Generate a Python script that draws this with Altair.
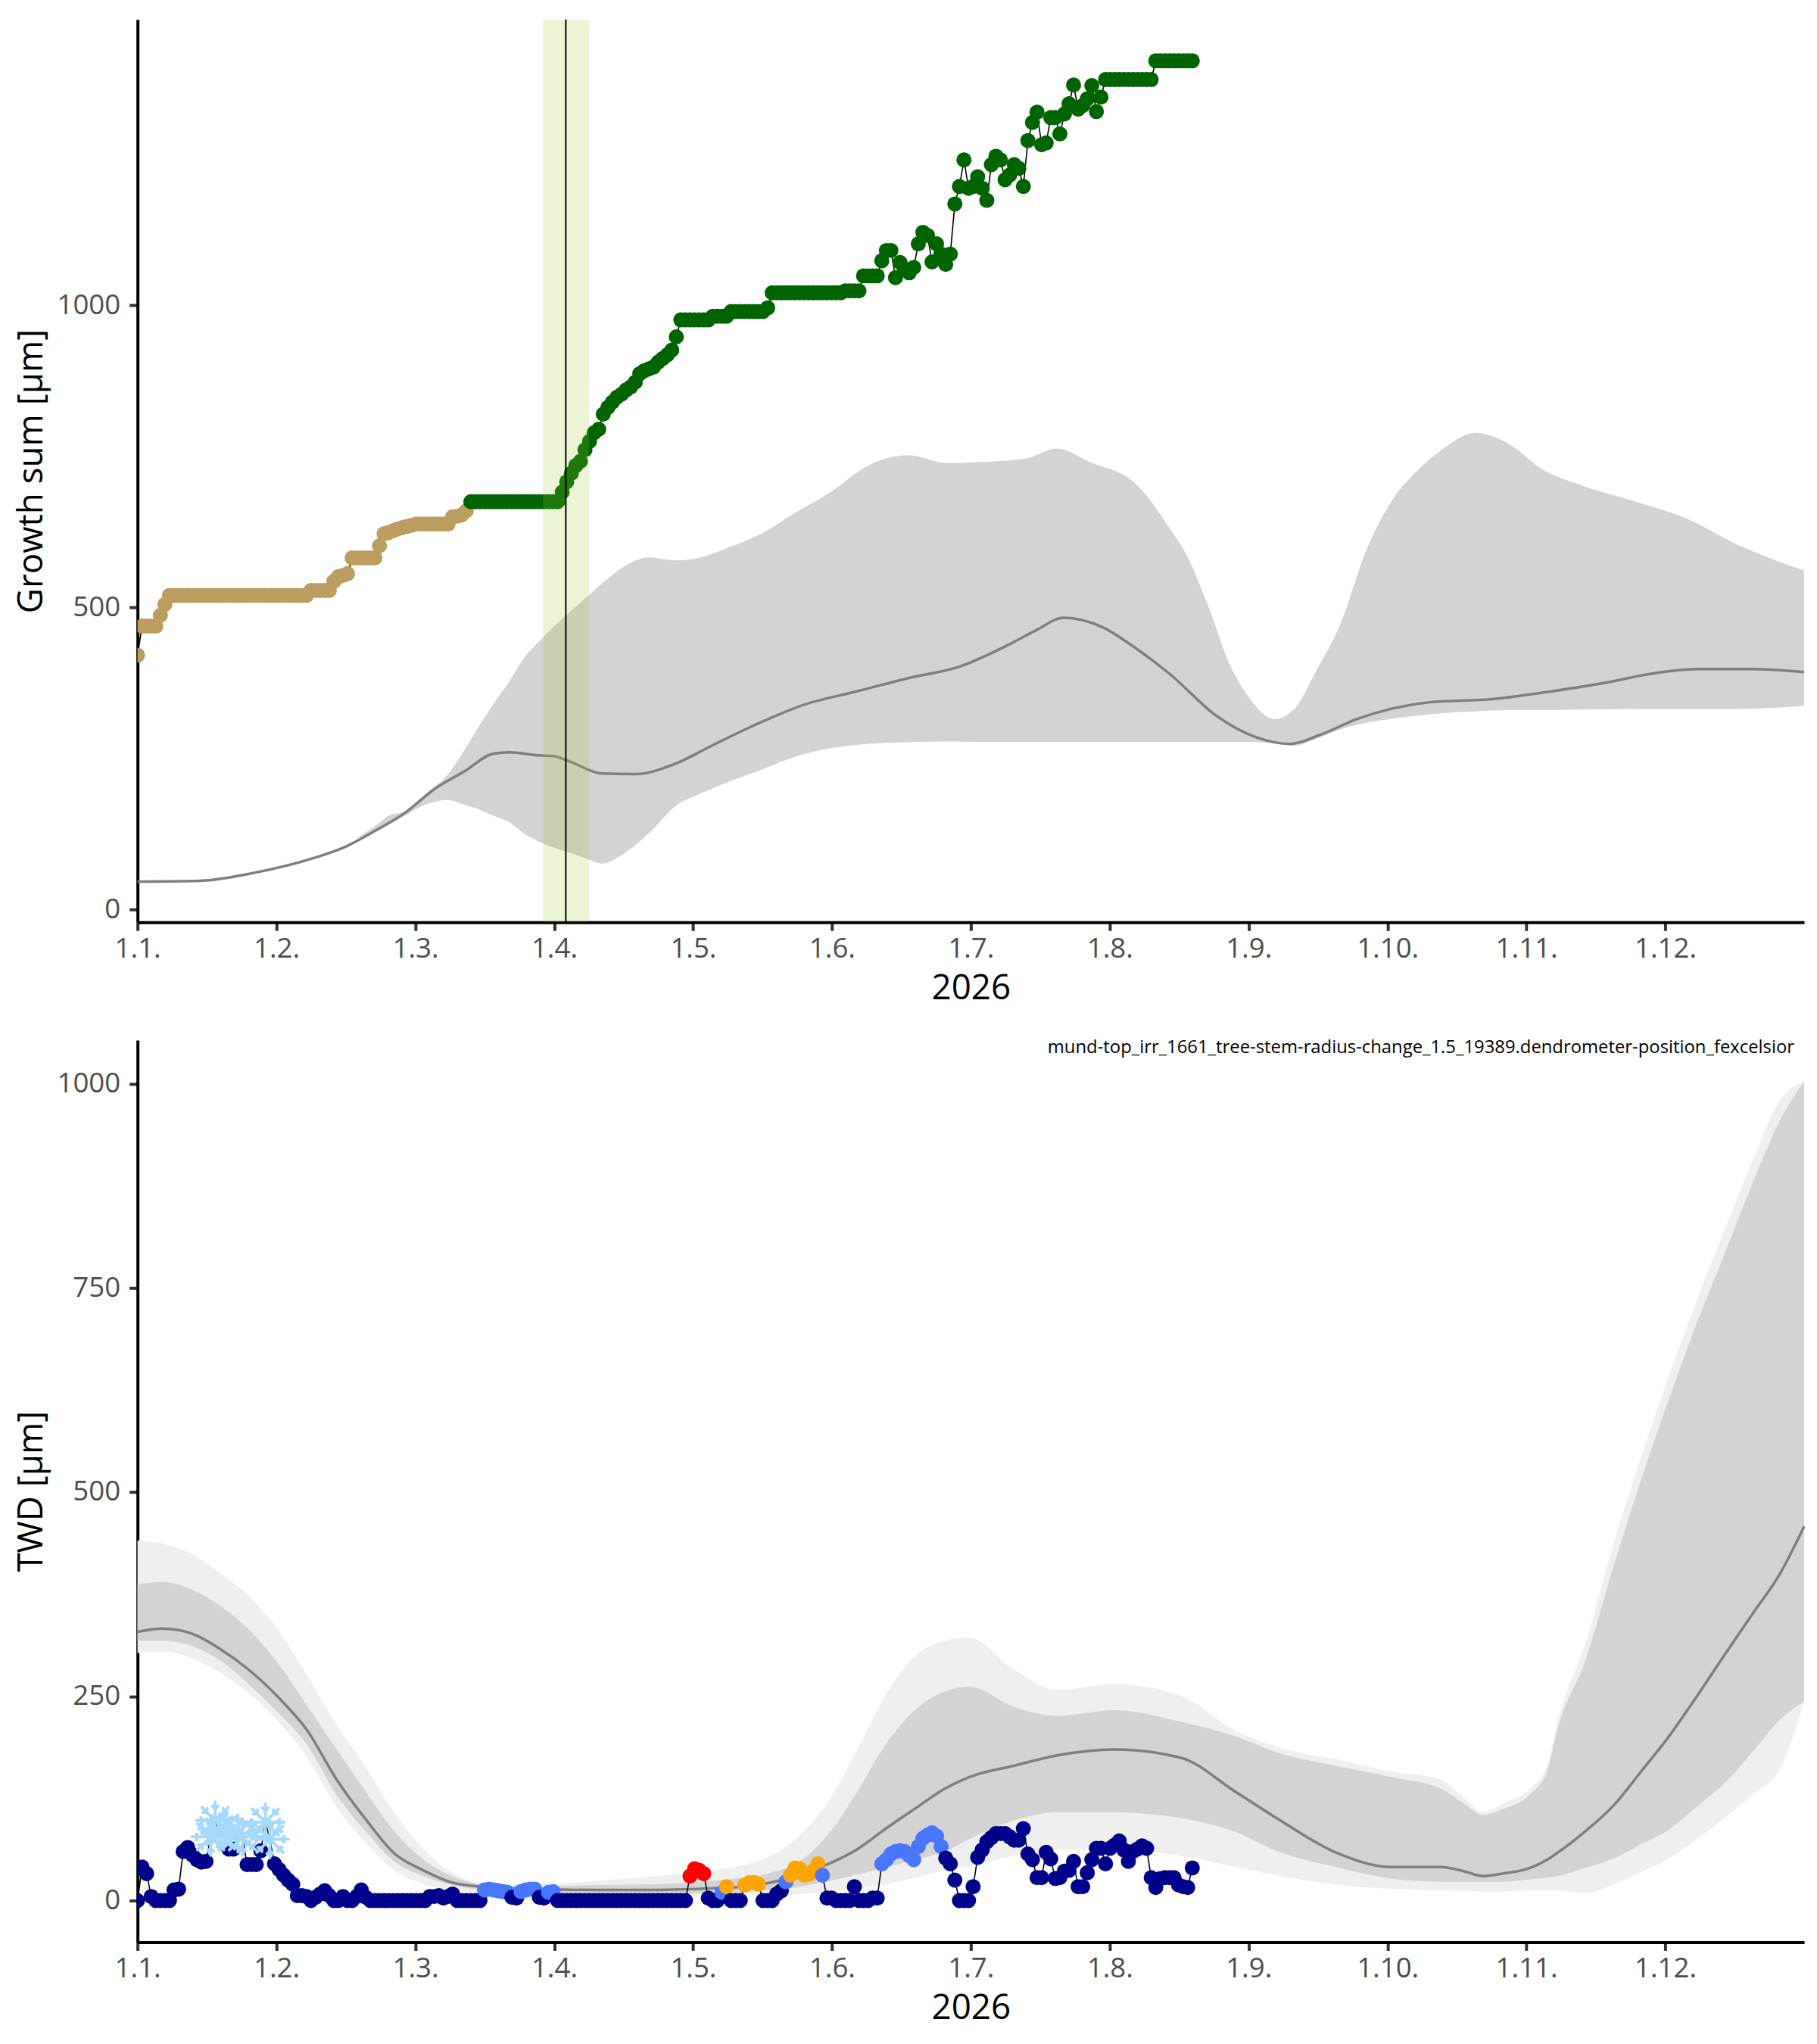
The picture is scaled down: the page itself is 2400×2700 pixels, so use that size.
import math
import altair as alt
import pandas as pd

FONT = "Open Sans"
W = 2206
H_TOP = 1195
H_BOT = 1194

# ---------------- shared axis text ----------------
year_title = "2026"
month_labels = ["1.1.", "1.2.", "1.3.", "1.4.", "1.5.", "1.6.",
                "1.7.", "1.8.", "1.9.", "1.10.", "1.11.", "1.12."]
YEAR_DAYS = 365

# ---------------- top panel: growth sum ----------------
tan_values = ([421] + [469] * 4 + [487, 505] + [520] * 31 + [528] * 5 +
              [543, 551, 553, 556] + [582] * 6 +
              [602, 622, 624, 627, 630, 632, 634, 636] + [638] * 8 +
              [650, 651, 653, 660])
green_values = ([675] * 20 +
                [691, 708, 722, 735, 742, 761, 775, 789, 795, 820, 831, 840, 848,
                 853, 860, 865, 873, 887, 892, 895, 898, 906, 912, 918, 926, 948] +
                [976] * 7 + [982] * 4 + [990] * 8 + [996] + [1021] * 16 +
                [1024] * 4 + [1049] * 4 +
                [1074, 1091, 1091, 1046, 1071, 1060, 1054, 1063, 1102, 1121, 1116,
                 1072, 1102, 1085, 1068, 1085, 1168, 1197, 1241, 1194, 1197, 1213,
                 1194, 1174, 1233, 1247, 1241, 1208, 1216, 1233, 1227, 1197, 1273,
                 1303, 1320, 1266, 1269, 1311, 1311, 1284, 1317, 1334, 1365, 1325,
                 1331, 1342, 1364, 1321, 1345] +
                [1374] * 11 + [1405] * 9)
growth_window = [88.8, 98.9]
growth_onset = [93.8]

gs_band_days = [48, 52, 55, 58.6, 62, 65, 67.8, 71.7, 75, 78,
                81.5, 84.8, 88, 91.3, 94.6, 98, 101.8, 106, 112, 117.7,
                123.4, 129, 137.6, 143, 151.8, 160, 168.8, 177.3, 185.8, 194.3,
                201.4, 208.5, 219, 225.5, 230, 234.5, 239, 243.5, 249, 253.5,
                258, 263.5, 269, 275, 280.5, 286, 293, 300, 307.8, 316.3,
                327.7, 339, 350.4, 365]
gs_band_hi = [118, 138, 155, 163, 184, 203, 222, 265, 306, 341,
              378, 418, 444, 469, 492, 515, 540, 565, 583, 578,
              583, 598, 626, 652, 691, 735, 752, 739, 741, 746,
              763, 741, 702, 637, 583, 502, 409, 350, 315, 333,
              393, 474, 593, 680, 728, 763, 789, 772, 728, 702,
              676, 648, 604, 561]
gs_band_lo = [118, 128, 140, 155, 170, 178, 181, 173, 165, 155,
              144, 125, 112, 102, 94, 85, 76, 90, 126, 170,
              192, 210, 234, 250, 267, 274, 277, 278, 277, 277,
              277, 277, 277, 277, 277, 277, 277, 277, 275, 271,
              282, 298, 309, 316, 321, 325, 328, 330, 330, 331,
              332, 332, 332, 337]
gs_mean_days = [0, 12.8, 25.8, 39, 45.6, 52, 58.6, 65, 71.7, 78,
                81.5, 88, 91, 94.6, 101.8, 109, 117.7, 126, 134.8, 146,
                157.5, 168.8, 180, 191.5, 197, 202.8, 211.4, 217, 226.5, 236,
                245, 252.5, 259, 267, 275, 283, 296.5, 307.8, 322, 330.5,
                342, 353, 365]
gs_mean_vals = [46, 47, 61, 86, 104, 130, 160, 199, 229, 258,
                260, 255, 254, 245, 225, 224, 241, 272, 304, 339,
                361, 383, 402, 441, 463, 483, 467, 441, 387, 322,
                285, 274, 289, 315, 333, 343, 348, 359, 376, 389,
                398, 398, 393]

# ---------------- bottom panel: TWD ----------------
twd_values = ([0, 41, 33, 5, 0, 0, 0, 0, 13, 14, 60, 65, 56, 50, 47, 48] +
              [78, 98, 84, 88, 63, 63, 82, 78, 44, 44, 44, 61, 96, 75] +
              [45, 38, 31, 25, 20, 6, 6, 5, 0, 4, 8, 12, 6, 0, 0, 5, 0, 0, 5, 13, 4] +
              [0] * 13 + [5, 5, 6, 3, 5, 8] + [0] * 6 +
              [13, 14, 13, 12, 11, 10, 4, 3, 11, 13, 14, 14, 4, 3, 10, 11] +
              [0] * 29 +
              [30, 39, 37, 33, 3, 0, 0, 10, 17, 0, 0, 0, 19, 22, 22, 20, 0, 0, 0, 8,
               12, 23, 31, 40, 39, 31, 32, 36, 45, 31] +
              [3, 3, 0, 0, 0, 0, 17, 0, 0, 0, 3, 3] +
              [45, 50, 57, 60, 61, 60, 55, 50, 66, 76, 80, 83, 79, 66] +
              [52, 45, 25, 0, 0, 0, 17, 53, 62, 72, 77, 82, 82, 82, 78, 74, 74, 88,
               57, 50, 28, 28, 59, 51, 27, 28, 36, 37, 48, 17, 17, 34, 50, 64, 64,
               45, 64, 68, 73, 62, 48, 60, 63, 67, 64, 28, 16, 27, 28, 28, 28, 19,
               17, 16, 40])
# n = no stress, b = mild, o = moderate, r = strong, s = frost
twd_class = ("n" * 16 + "ssssnnssnnnnss" + "n" * 46 + "bbbbbbnnbbbbnnbb" + "n" * 29 +
             "rrrrnnnbonnnoooonnnnnbooooooob" + "n" * 12 + "b" * 14 + "n" * 55)

twd_band_days = [0, 5.5, 11.8, 18.1, 24.5, 30.8, 37.2, 43.5, 49.9, 56.2,
                 62.6, 68.9, 75.3, 87.9, 100.6, 113.3, 126, 132.4, 138.7, 145,
                 151.4, 157.7, 164.1, 170.4, 176.8, 182.1, 191.9, 201.6, 213.8, 228.4,
                 240.5, 250.3, 262.4, 274.6, 285.5, 290.4, 294.7, 299, 305, 308.7,
                 311.1, 317.1, 323.2, 329.3, 335.4, 341.5, 347.6, 353.7, 359.8, 365]
twd_outer_lo = [303, 305, 297, 279, 253, 219, 175, 115, 71, 37,
                20, 13, 9, 6, 5, 4, 4, 5, 6, 8,
                11, 15, 20, 28, 37, 42, 55, 62, 62, 55,
                41, 30, 19.5, 14.5, 12, 11.5, 11, 11, 12, 12,
                12, 9, 19.5, 35, 51.5, 75, 101, 130, 162, 244]
twd_inner_lo = [318, 318, 312, 294, 264, 230, 190, 130, 85, 48,
                30, 19, 13, 9, 8, 8, 9, 10, 13, 17,
                24, 32, 41, 50, 60, 75, 98, 108, 108, 101,
                84, 59, 41, 27, 23, 23, 23, 23, 26, 28,
                30, 40, 51.5, 69, 87, 115, 144, 182, 222, 244]
twd_mean = [329, 333, 327, 308, 282, 249, 208, 149, 100, 58,
            37, 22, 17, 14, 13, 13, 15, 17, 22, 32,
            45, 63, 89, 113, 137, 151, 165, 178, 185, 175,
            133, 98, 59, 41, 41, 36, 30, 33, 40, 50,
            59, 85, 116, 158, 201, 250, 301, 351, 401, 458]
twd_inner_hi = [387, 390, 381, 361, 331, 290, 238, 186, 134, 85,
                50, 30, 20, 17, 19, 20, 24, 28, 34, 48,
                82, 134, 193, 234, 256, 262, 237, 226, 233, 219,
                201, 180, 165, 151, 137, 119, 105, 112, 130, 158,
                212, 294, 408, 515, 614, 707, 792, 878, 956, 1003]
twd_outer_hi = [441, 437, 424, 401, 372, 331, 275, 216, 164, 108,
                63, 34, 22, 20, 24, 30, 37, 43, 55, 80,
                122, 186, 254, 300, 318, 322, 283, 258, 265, 251,
                208, 187, 173, 158, 148, 126, 108.5, 119, 137, 165,
                222, 315, 436, 543, 643, 735, 821, 906, 981, 1003]
sensor_label = "mund-top_irr_1661_tree-stem-radius-change_1.5_19389.dendrometer-position_fexcelsior"

# ---------------- colours ----------------
TAN = "#BA9D5F"
GREEN = "#006400"
NAVY = "#00008B"
BLUE = "#4876FF"
RED = "#FF0000"
ORANGE = "#FFA500"
SNOW = "#A6D8FA"
BAND = "#D3D3D3"
BAND_OUT = "#EFEFEF"
MEAN = "#7F7F7F"
PT_SIZE = 400

# ---------------- data frames ----------------
top_pts = pd.DataFrame({
    "day": list(range(len(tan_values) + len(green_values))),
    "value": tan_values + green_values,
    "phase": ["tan"] * len(tan_values) + ["green"] * len(green_values),
})
top_band = pd.DataFrame({"day": gs_band_days, "lo": gs_band_lo, "hi": gs_band_hi})
top_mean = pd.DataFrame({"day": gs_mean_days, "value": gs_mean_vals})
win_df = pd.DataFrame({"start": [growth_window[0]], "end": [growth_window[1]]})
onset_df = pd.DataFrame({"day": growth_onset})

bot_pts = pd.DataFrame({
    "day": list(range(len(twd_values))),
    "value": twd_values,
    "cls": list(twd_class),
})
bot_band = pd.DataFrame({"day": twd_band_days, "olo": twd_outer_lo, "ilo": twd_inner_lo,
                         "mean": twd_mean, "ihi": twd_inner_hi, "ohi": twd_outer_hi})
label_df = pd.DataFrame({"t": [sensor_label]})

# ---------------- axes / scales ----------------
step = YEAR_DAYS / 12
x_ticks = [i * step for i in range(12)]
label_array = "[" + ",".join("'" + m + "'" for m in month_labels) + "]"
x_scale = alt.Scale(domain=[0, YEAR_DAYS], nice=False, zero=False)
x_axis = alt.Axis(values=x_ticks, labelExpr=label_array + "[round(datum.value / " + str(step) + ")]",
                  title=year_title, labelFlush=False, labelOverlap=False,
                  labelPadding=6, titlePadding=12)


def X(field):
    return alt.X(field, type="quantitative", scale=x_scale, axis=x_axis)


top_y_scale = alt.Scale(domain=[-21.3, 1473.4], nice=False, zero=False)
top_y_axis = alt.Axis(values=[0, 500, 1000], format="d", title="Growth sum [µm]",
                      titlePadding=9, labelPadding=12)
bot_y_scale = alt.Scale(domain=[-50.9, 1053.3], nice=False, zero=False)
bot_y_axis = alt.Axis(values=[0, 250, 500, 750, 1000], format="d", title="TWD [µm]",
                      titlePadding=9, labelPadding=12)


def YT(field):
    return alt.Y(field, type="quantitative", scale=top_y_scale, axis=top_y_axis)


def YB(field):
    return alt.Y(field, type="quantitative", scale=bot_y_scale, axis=bot_y_axis)


# ---------------- top panel ----------------
t_band = alt.Chart(top_band).mark_area(color=BAND, interpolate="monotone").encode(
    x=X("day"), y=YT("lo"), y2="hi")
t_mean = alt.Chart(top_mean).mark_line(color=MEAN, strokeWidth=3.5, interpolate="monotone").encode(
    x=X("day"), y=YT("value"))
t_conn = alt.Chart(top_pts).mark_line(color="black", strokeWidth=1.6).encode(
    x=X("day"), y=YT("value"))
t_pts = alt.Chart(top_pts).mark_circle(size=PT_SIZE, opacity=1, clip=True).encode(
    x=X("day"), y=YT("value"),
    color=alt.Color("phase:N", scale=alt.Scale(domain=["tan", "green"], range=[TAN, GREEN]), legend=None))
t_win = alt.Chart(win_df).mark_rect(color="#9ACD32", opacity=0.2).encode(
    x=X("start"), x2="end")
t_rule = alt.Chart(onset_df).mark_rule(color="black", strokeWidth=2).encode(x=X("day"))

top = alt.layer(t_band, t_mean, t_conn, t_pts, t_win, t_rule).properties(width=W, height=H_TOP)

# ---------------- bottom panel ----------------
arms = []
for k in range(4):
    a = k * math.pi / 4
    c, s = math.cos(a), math.sin(a)
    arms.append("M%.3f,%.3fL%.3f,%.3f" % (-c, -s, c, s))
for k in range(8):
    a = k * math.pi / 4
    px, py = 0.62 * math.cos(a), 0.62 * math.sin(a)
    for d in (-1, 1):
        b = a + d * math.pi / 4
        arms.append("M%.3f,%.3fL%.3f,%.3f" % (px, py, px + 0.22 * math.cos(b), py + 0.22 * math.sin(b)))
snow_path = "".join(arms)

b_outer = alt.Chart(bot_band).mark_area(color=BAND_OUT, interpolate="monotone").encode(
    x=X("day"), y=YB("olo"), y2="ohi")
b_inner = alt.Chart(bot_band).mark_area(color=BAND, interpolate="monotone").encode(
    x=X("day"), y=YB("ilo"), y2="ihi")
b_mean = alt.Chart(bot_band).mark_line(color=MEAN, strokeWidth=3.5, interpolate="monotone").encode(
    x=X("day"), y=YB("mean"))
b_conn = alt.Chart(bot_pts).mark_line(color="black", strokeWidth=1.6).encode(
    x=X("day"), y=YB("value"))
b_pts = alt.Chart(bot_pts).transform_filter("datum.cls != 's'").mark_circle(
    size=PT_SIZE, opacity=1, clip=True).encode(
    x=X("day"), y=YB("value"),
    color=alt.Color("cls:N", scale=alt.Scale(domain=["n", "b", "o", "r"],
                                             range=[NAVY, BLUE, ORANGE, RED]), legend=None))
b_snow = alt.Chart(bot_pts).transform_filter("datum.cls == 's'").mark_point(
    shape=snow_path, size=2400, filled=False, color=SNOW, strokeWidth=4,
    strokeCap="round", opacity=1).encode(x=X("day"), y=YB("value"))
b_label = alt.Chart(label_df).mark_text(
    align="right", baseline="middle", font=FONT, fontSize=23.9, color="black").encode(
    x=alt.value(W - 13), y=alt.value(10), text="t:N")

bottom = alt.layer(b_outer, b_inner, b_mean, b_conn, b_pts, b_snow, b_label).properties(
    width=W, height=H_BOT)

chart = alt.vconcat(top, bottom, spacing=43).resolve_scale(color="independent").properties(
    padding={"left": 11, "top": 14, "right": 2, "bottom": 5}
).configure(font=FONT).configure_axis(
    grid=False, domainColor="black", domainWidth=4, tickColor="#333333", tickWidth=4,
    tickSize=11, labelColor="#4D4D4D", labelFont=FONT, labelFontSize=36.7,
    titleFont=FONT, titleFontSize=45.8, titleFontWeight="normal", titleColor="black"
).configure_view(stroke=None)

chart.save("out.html", embed_options={"renderer": "svg", "actions": False})
